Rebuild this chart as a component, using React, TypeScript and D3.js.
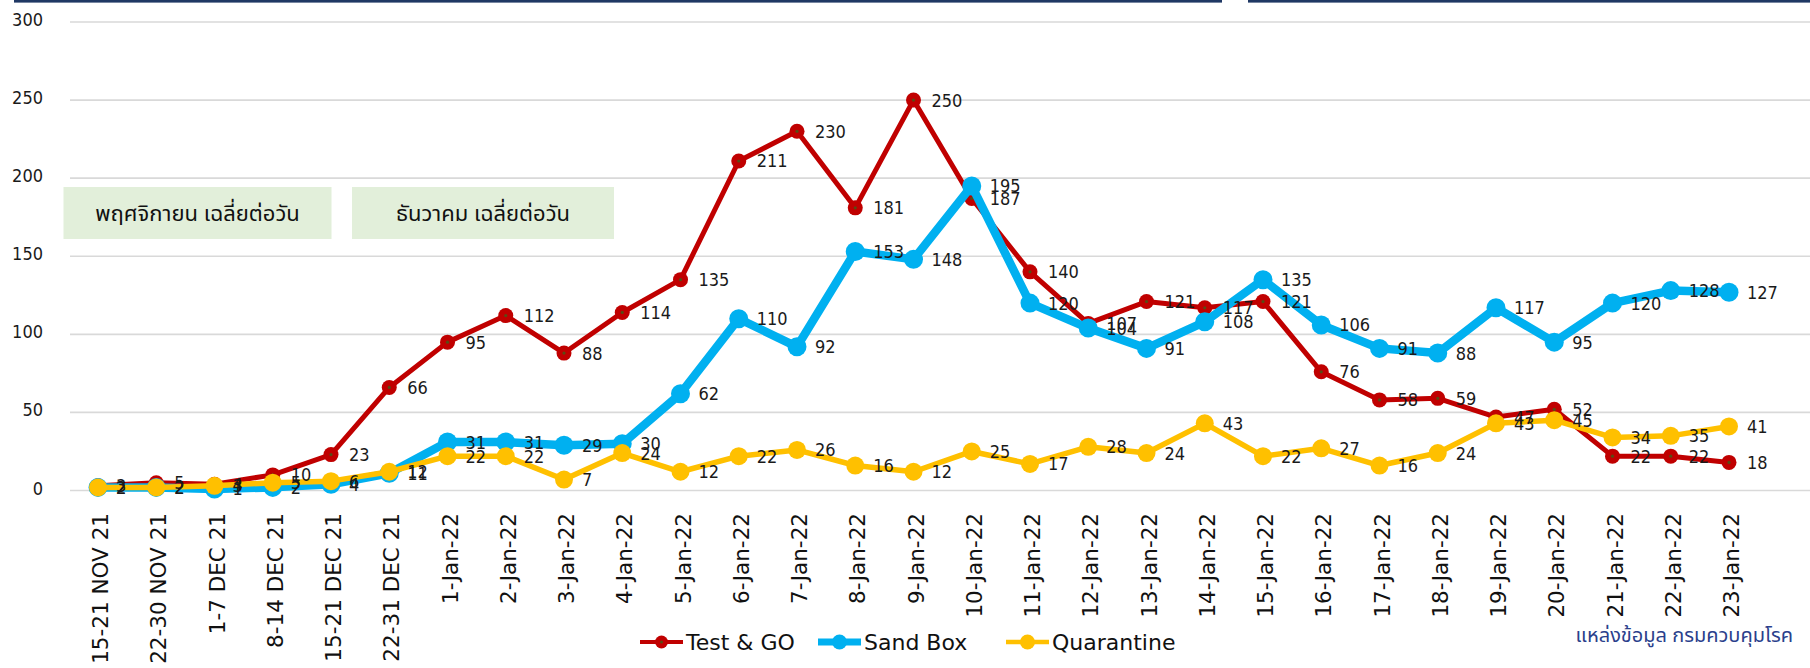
import React from 'react';
import * as d3 from 'd3';

const categories = [
  '15-21 NOV 21', '22-30 NOV 21', '1-7 DEC 21', '8-14 DEC 21', '15-21 DEC 21', '22-31 DEC 21',
  '1-Jan-22', '2-Jan-22', '3-Jan-22', '4-Jan-22', '5-Jan-22', '6-Jan-22', '7-Jan-22', '8-Jan-22',
  '9-Jan-22', '10-Jan-22', '11-Jan-22', '12-Jan-22', '13-Jan-22', '14-Jan-22', '15-Jan-22',
  '16-Jan-22', '17-Jan-22', '18-Jan-22', '19-Jan-22', '20-Jan-22', '21-Jan-22', '22-Jan-22', '23-Jan-22',
];

const testGo = [3, 5, 4, 10, 23, 66, 95, 112, 88, 114, 135, 211, 230, 181, 250, 187, 140, 107, 121, 117, 121, 76, 58, 59, 47, 52, 22, 22, 18];
const sandBox = [2, 2, 1, 2, 4, 11, 31, 31, 29, 30, 62, 110, 92, 153, 148, 195, 120, 104, 91, 108, 135, 106, 91, 88, 117, 95, 120, 128, 127];
const quarantine = [2, 2, 3, 5, 6, 12, 22, 22, 7, 24, 12, 22, 26, 16, 12, 25, 17, 28, 24, 43, 22, 27, 16, 24, 43, 45, 34, 35, 41];

const seriesNames = ['Test & GO', 'Sand Box', 'Quarantine'];
const yTicks = [0, 50, 100, 150, 200, 250, 300];
const boxLabels = ['พฤศจิกายน เฉลี่ยต่อวัน', 'ธันวาคม เฉลี่ยต่อวัน'];
const sourceText = 'แหล่งข้อมูล กรมควบคุมโรค';

const numFont = "'DejaVu Sans Condensed', 'Liberation Sans Narrow', 'DejaVu Sans', sans-serif";
const axisFont = "'DejaVu Sans', Verdana, sans-serif";
const thaiFont = "'Noto Sans Thai', 'Noto Sans Thai UI', 'Noto Sans', sans-serif";

export default function App() {
  const W = 1810;
  const H = 668;
  const x = d3.scalePoint<string>().domain(categories).range([98, 1729]);
  const y = d3.scaleLinear().domain([0, 300]).range([490.5, 22]);

  const styles = [
    { color: '#C00000', width: 5, r: 7.5, dot: true, legendX: 640, legendR: 6.5 },
    { color: '#00B0F0', width: 8.5, r: 9.5, dot: false, legendX: 818, legendR: 7.5 },
    { color: '#FFC000', width: 5.5, r: 9, dot: false, legendX: 1006, legendR: 7.5 },
  ];
  const data = [testGo, sandBox, quarantine];
  const series = seriesNames.map((name, k) => ({ name, values: data[k], ...styles[k] }));

  const line = d3
    .line<number>()
    .x((_, i) => x(categories[i]) as number)
    .y((d) => y(d));

  return (
    <svg width={W} height={H} style={{ position: 'absolute', left: 0, top: 0, background: '#fff' }}>
      <rect x={0} y={0} width={W} height={H} fill="#fff" />
      {/* top navy bars */}
      <rect x={14} y={0} width={1208} height={2.6} fill="#1F3864" />
      <rect x={1248} y={0} width={W - 1248} height={2.6} fill="#1F3864" />

      {/* gridlines + y labels */}
      {yTicks.map((t) => (
        <g key={t}>
          <line x1={70} x2={W} y1={y(t)} y2={y(t)} stroke="#D9D9D9" strokeWidth={1.6} />
          <text x={43} y={y(t) - 2.5} textAnchor="end" dominantBaseline="central" fontFamily={numFont} fontSize={18} fill="#1a1a1a">
            {t}
          </text>
        </g>
      ))}

      {/* green boxes */}
      {boxLabels.map((lab, i) => {
        const bx = i === 0 ? 63.5 : 352;
        const bw = i === 0 ? 268 : 262;
        return (
          <g key={lab}>
            <rect x={bx} y={187} width={bw} height={52} fill="#E2EFDA" />
            <text x={bx + bw / 2} y={214} textAnchor="middle" dominantBaseline="central" fontFamily={thaiFont} fontSize={22} fill="#111">
              {lab}
            </text>
          </g>
        );
      })}

      {/* x labels */}
      {categories.map((c) => (
        <text
          key={c}
          transform={`translate(${(x(c) as number) + 10},513) rotate(-90)`}
          textAnchor="end"
          fontFamily={axisFont}
          fontSize={21.5}
          fill="#111"
        >
          {c}
        </text>
      ))}

      {/* series */}
      {series.map((s) => (
        <g key={s.name}>
          <path d={line(s.values) || ''} fill="none" stroke={s.color} strokeWidth={s.width} strokeLinejoin="round" />
          {s.values.map((v, i) => (
            <g key={i}>
              <circle cx={x(categories[i])} cy={y(v)} r={s.r} fill={s.color} />
              {s.dot && <circle cx={x(categories[i])} cy={y(v)} r={1.6} fill="#5A4A14" />}
            </g>
          ))}
        </g>
      ))}

      {/* data labels */}
      {series.map((s) => (
        <g key={s.name + '-lab'}>
          {s.values.map((v, i) => (
            <text
              key={i}
              x={(x(categories[i]) as number) + 18}
              y={y(v)}
              dominantBaseline="central"
              fontFamily={numFont}
              fontSize={18}
              fill="#1a1a1a"
            >
              {v}
            </text>
          ))}
        </g>
      ))}

      {/* legend */}
      {series.map((s) => (
        <g key={s.name + '-leg'}>
          <line x1={s.legendX} x2={s.legendX + 43} y1={642} y2={642} stroke={s.color} strokeWidth={s.width * 0.8} />
          <circle cx={s.legendX + 21.5} cy={642} r={s.legendR} fill={s.color} />
          {s.dot && <circle cx={s.legendX + 21.5} cy={642} r={1.5} fill="#5A4A14" />}
          <text x={s.legendX + 46} y={642} dominantBaseline="central" fontFamily={axisFont} fontSize={22} fill="#111">
            {s.name}
          </text>
        </g>
      ))}

      {/* source */}
      <text x={1793} y={636} textAnchor="end" dominantBaseline="central" fontFamily={thaiFont} fontSize={20} fill="#2B3F8C">
        {sourceText}
      </text>
    </svg>
  );
}
